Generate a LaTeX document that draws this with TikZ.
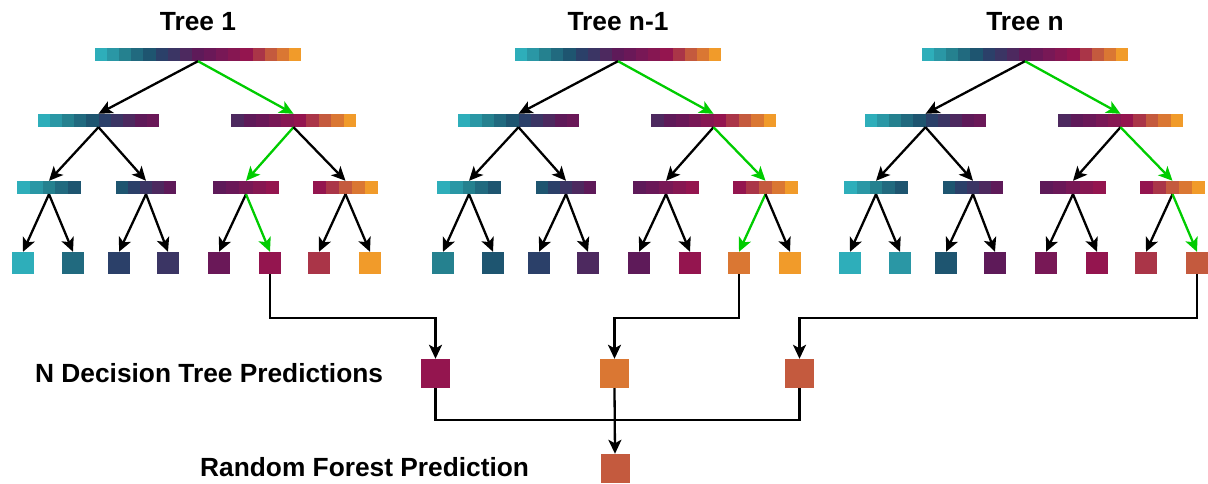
\documentclass[tikz,border=0pt]{standalone}
\usepackage{fontspec}
\setmainfont{Liberation Sans}
\usetikzlibrary{arrows.meta,calc}
\definecolor{c1}{HTML}{2EAEBA}
\definecolor{c2}{HTML}{2A97A5}
\definecolor{c3}{HTML}{25818F}
\definecolor{c4}{HTML}{216A7F}
\definecolor{c5}{HTML}{1E5570}
\definecolor{c6}{HTML}{2B4069}
\definecolor{c7}{HTML}{3B3564}
\definecolor{c8}{HTML}{4D295F}
\definecolor{c9}{HTML}{5E1A59}
\definecolor{c10}{HTML}{6A1858}
\definecolor{c11}{HTML}{781856}
\definecolor{c12}{HTML}{861752}
\definecolor{c13}{HTML}{94154F}
\definecolor{c14}{HTML}{AA3548}
\definecolor{c15}{HTML}{C45A3E}
\definecolor{c16}{HTML}{DA7733}
\definecolor{c17}{HTML}{F19B2A}
\definecolor{grn}{HTML}{00CC00}
% name, xleft, ytop, width, first colour, count
\newcommand{\cellbar}[6]{%
  \pgfmathsetmacro{\barcw}{#4/#6}%
  \foreach \i in {1,...,#6} {%
    \pgfmathtruncatemacro{\barci}{#5+\i-1}%
    \pgfmathsetmacro{\barxa}{#2+(\i-1)*\barcw}%
    \pgfmathsetmacro{\barxb}{min(#2+\i*\barcw+0.4,#2+#4)}%
    \fill[c\barci] (\barxa,#3) rectangle (\barxb,#3+13);
  }%
  \node[inner sep=0pt, minimum width=#4pt, minimum height=13pt] (#1) at ({#2+#4/2},#3+6.5) {};%
}
% prefix, shift, leaf colours, green level-2 bar, green leaf
\newcommand{\drawtree}[5]{%
  \cellbar{#1r}{95+#2}{48}{206}{1}{17}
  \cellbar{#1a}{38+#2}{114}{121}{1}{10}
  \cellbar{#1b}{231+#2}{114}{125}{8}{10}
  \cellbar{#1c1}{17+#2}{181}{64}{1}{5}
  \cellbar{#1c2}{116+#2}{181}{60}{5}{5}
  \cellbar{#1c3}{213+#2}{181}{66}{9}{5}
  \cellbar{#1c4}{313+#2}{181}{65}{13}{5}
  \foreach \lc [count=\k] in {#3} {
    \pgfmathsetmacro{\leafx}{{12,62,108,157,208,259,308,359}[\k-1]+11+#2}
    \node[leaf, fill=c\lc] (#1l\k) at (\leafx,263) {};
  }
  \draw[arr] (#1r.south) -- (#1a.north);
  \draw[arr, color=grn] (#1r.south) -- (#1b.north);
  \foreach \k in {1,2} { \draw[arr] (#1a.south) -- (#1c\k.north); }
  \foreach \k in {3,4} {
    \ifnum\k=#4\relax \def\acol{grn}\else\def\acol{black}\fi
    \draw[arr, color=\acol] (#1b.south) -- (#1c\k.north);
  }
  \foreach \k in {1,...,8} {
    \pgfmathtruncatemacro{\pk}{ceil(\k/2)}
    \ifnum\k=#5\relax \def\acol{grn}\else\def\acol{black}\fi
    \draw[arr, color=\acol] (#1c\pk.south) -- (#1l\k.north);
  }
}
\tikzset{
  arr/.style={line width=2.3pt, -{Stealth[length=14pt,width=13pt,inset=3.5pt]}},
  ln/.style={line width=2.3pt},
  leaf/.style={inner sep=0pt, minimum size=22pt, draw=none},
  pbox/.style={inner sep=0pt, minimum size=29pt, draw=none},
  lab/.style={font=\fontsize{26.3}{31}\selectfont\bfseries, inner sep=0pt},
}
\begin{document}
\begin{tikzpicture}[x=1pt, y=-1pt]
\useasboundingbox (0,0) rectangle (1208,484);
\drawtree{ta}{0}{1,4,6,7,10,13,14,17}{3}{6}
\drawtree{tb}{420}{3,5,6,8,9,13,16,17}{4}{7}
\drawtree{tc}{827}{1,2,5,9,11,13,14,15}{4}{8}
\node[lab, anchor=base] (title1) at (198,31) {Tree 1};
\node[lab, anchor=base] (title2) at (618,31) {Tree n-1};
\node[lab, anchor=base] (title3) at (1025,31) {Tree n};
\node[pbox, fill=c13] (p1) at (435.5,373.5) {};
\node[pbox, fill=c16] (p2) at (614.5,373.5) {};
\node[pbox, fill=c15] (p3) at (799.5,373.5) {};
\node[pbox, fill=c15] (fin) at (615,468.5) {};
\node[lab, anchor=base west] (lab1) at (35,382) {N Decision Tree Predictions};
\node[lab, anchor=base west] (lab2) at (200,476) {Random Forest Prediction};
\coordinate (jy) at (0,318);
\coordinate (jb) at (0,420);
\draw[arr] (tal6.south) -- (tal6.south |- jy) -| (p1.north);
\draw[arr] (tbl7.south) -- (tbl7.south |- jy) -| (p2.north);
\draw[arr] (tcl8.south) -- (tcl8.south |- jy) -| (p3.north);
\draw[ln] (p1.south) -- (p1.south |- jb) -| (p3.south);
\draw[arr] (p2.south) -- (fin.north);
\end{tikzpicture}
\end{document}
